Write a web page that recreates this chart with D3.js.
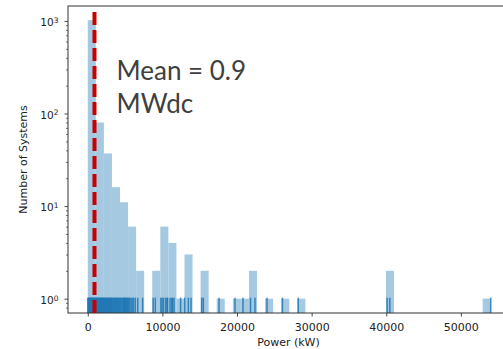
<!DOCTYPE html>
<html>
<head>
<meta charset="utf-8">
<script src="https://cdn.jsdelivr.net/npm/d3@7"></script>
<style>
  html, body { margin: 0; padding: 0; background: #fff; }
  svg { display: block; }
</style>
</head>
<body>
<svg id="chart" width="503" height="349"></svg>
<script>
// Histogram bin edges (kW)
const binEdgesKW = [0, 1080, 2160, 3240, 4320, 5400, 6480, 7560, 8640, 9720,
  10800, 11880, 12960, 14040, 15120, 16200, 17280, 18360, 19440, 20520,
  21600, 22680, 23760, 24840, 25920, 27000, 28080, 29160, 30240, 31320,
  32400, 33480, 34560, 35640, 36720, 37800, 38880, 39960, 41040, 42120,
  43200, 44280, 45360, 46440, 47520, 48600, 49680, 50760, 51840, 52920, 54000];

// Number of systems per bin
const binCounts = [1020, 80, 37, 16, 11, 6, 2, 0, 2, 6,
  4, 1, 3, 0, 2, 0, 1, 0, 1, 1,
  2, 0, 1, 0, 1, 0, 1, 0, 0, 0,
  0, 0, 0, 0, 0, 0, 0, 2, 0, 0,
  0, 0, 0, 0, 0, 0, 0, 0, 0, 1];

// Individual system sizes shown as rug ticks (kW)
const rugKW = [5, 90, 150, 230, 300, 380, 450, 520, 600, 680, 750, 830, 900, 970, 1050,
  1120, 1200, 1280, 1350, 1430, 1500, 1580, 1660, 1740, 1820, 1900, 1980, 2060, 2140,
  2200, 2290, 2380, 2460, 2540, 2620, 2700, 2790, 2870, 2950, 3030, 3110, 3190,
  3280, 3400, 3520, 3600, 3720, 3850, 3930, 4050, 4130, 4250,
  4380, 4450, 4600, 4700, 4820, 4900, 4980, 5050, 5150, 5250, 5350,
  5480, 5620, 5800, 5950, 6150, 6380,
  6700, 7350, 8760, 9050,
  9790, 9960, 10160, 10450, 10630, 10700,
  11030, 11260, 11370, 11570, 12440, 12990, 13480, 13840,
  15270, 15490, 17590, 19730, 20800, 21810, 22410,
  24020, 26090, 28210, 40120, 40480, 54000];

// Mean system size (MWdc)
const meanMW = 0.9;

// Axis limits and ticks
const xDomainKW = [-2650, 56450];
const yDomain = [0.7, 1450];
const xTicks = [0, 10000, 20000, 30000, 40000, 50000];
const yMajorTicks = [1, 10, 100, 1000];
const yMinorTicks = [0.8, 0.9, 2, 3, 4, 5, 6, 7, 8, 9, 20, 30, 40, 50, 60, 70, 80, 90,
  200, 300, 400, 500, 600, 700, 800, 900];

const xLabel = "Power (kW)";
const yLabel = "Number of Systems";

const svg = d3.select("#chart");
const plot = { left: 68, top: 6, right: 509, bottom: 313 };
const plotH = plot.bottom - plot.top;

const x = d3.scaleLinear().domain(xDomainKW).range([plot.left, plot.right]);
const y = d3.scaleLog().domain(yDomain).range([plot.bottom, plot.top]);

svg.append("defs").append("clipPath").attr("id", "plotClip")
  .append("rect")
  .attr("x", plot.left).attr("y", plot.top)
  .attr("width", plot.right - plot.left).attr("height", plotH);

const g = svg.append("g").attr("clip-path", "url(#plotClip)");

// Histogram bars
const bins = binCounts.map((c, i) => ({ x0: binEdgesKW[i], x1: binEdgesKW[i + 1], count: c }))
  .filter(d => d.count > 0);

g.selectAll("rect.bar").data(bins).join("rect")
  .attr("class", "bar")
  .attr("x", d => x(d.x0))
  .attr("width", d => x(d.x1) - x(d.x0))
  .attr("y", d => y(d.count))
  .attr("height", d => plot.bottom - y(d.count))
  .attr("fill", "#a5c9e1");

// Rug ticks along the bottom
const rugH = plotH * 0.05;
g.selectAll("line.rug").data(rugKW).join("line")
  .attr("class", "rug")
  .attr("x1", d => x(d)).attr("x2", d => x(d))
  .attr("y1", plot.bottom).attr("y2", plot.bottom - rugH)
  .attr("stroke", "#1f77b4")
  .attr("stroke-width", 1.5)
  .attr("stroke-opacity", 0.85);

// Axes
const tickFont = "DejaVu Sans, sans-serif";

const xAxis = svg.append("g")
  .attr("transform", `translate(0,${plot.bottom})`)
  .call(d3.axisBottom(x).tickValues(xTicks).tickSize(3.5).tickPadding(6.5)
    .tickFormat(d3.format("d")));
xAxis.select(".domain").remove();
xAxis.selectAll("line").attr("stroke", "#333").attr("stroke-width", 0.9);
xAxis.selectAll("text").attr("font-family", tickFont).attr("font-size", 11)
  .attr("fill", "#222");

const yAxis = svg.append("g")
  .attr("transform", `translate(${plot.left},0)`)
  .call(d3.axisLeft(y).tickValues(yMajorTicks).tickSize(3.5).tickPadding(6)
    .tickFormat(() => ""));
yAxis.select(".domain").remove();
yAxis.selectAll("line").attr("stroke", "#333").attr("stroke-width", 0.9);
yAxis.selectAll(".tick text").each(function (d) {
  const t = d3.select(this)
    .attr("font-family", tickFont).attr("font-size", 10.5).attr("fill", "#222")
    .attr("dy", "0.45em");
  t.append("tspan").text("10");
  t.append("tspan").attr("dy", "-0.45em").attr("font-size", 7.5)
    .text(String(Math.round(Math.log10(d))));
});

const yMinor = svg.append("g")
  .attr("transform", `translate(${plot.left},0)`)
  .call(d3.axisLeft(y).tickValues(yMinorTicks.filter(v => v >= yDomain[0] && v <= yDomain[1]))
    .tickSize(2).tickFormat(() => ""));
yMinor.select(".domain").remove();
yMinor.selectAll("line").attr("stroke", "#333").attr("stroke-width", 0.7);

// Axes frame
svg.append("rect")
  .attr("x", plot.left).attr("y", plot.top)
  .attr("width", plot.right - plot.left).attr("height", plotH)
  .attr("fill", "none").attr("stroke", "#333").attr("stroke-width", 1);

// Axis titles
svg.append("text")
  .attr("x", (plot.left + plot.right) / 2).attr("y", 346)
  .attr("text-anchor", "middle")
  .attr("font-family", tickFont).attr("font-size", 11).attr("fill", "#222")
  .text(xLabel);

svg.append("text")
  .attr("transform", `translate(27,${(plot.top + plot.bottom) / 2}) rotate(-90)`)
  .attr("text-anchor", "middle")
  .attr("font-family", tickFont).attr("font-size", 11).attr("fill", "#222")
  .text(yLabel);

// Mean marker
const meanX = x(meanMW * 1000);
svg.append("line")
  .attr("x1", meanX).attr("x2", meanX)
  .attr("y1", plot.top + 6).attr("y2", plot.bottom)
  .attr("stroke", "#c80000")
  .attr("stroke-width", 4)
  .attr("stroke-dasharray", "13,5");

const note = svg.append("text")
  .attr("font-family", "Lato, 'Open Sans', sans-serif")
  .attr("font-size", 26)
  .attr("fill", "#404040");
note.append("tspan").attr("x", 116.5).attr("y", 80).text(`Mean = ${meanMW}`);
note.append("tspan").attr("x", 116.5).attr("y", 113).text("MWdc");
</script>
</body>
</html>
